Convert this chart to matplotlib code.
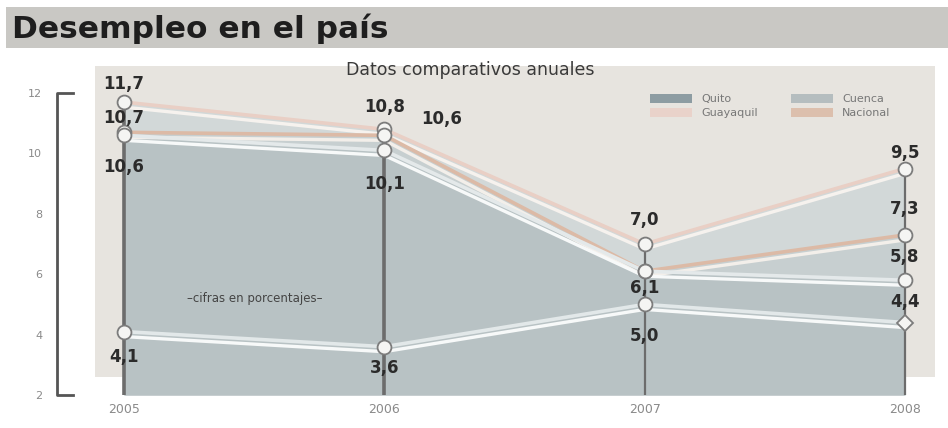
import matplotlib
matplotlib.use("Agg")
import matplotlib.pyplot as plt
from matplotlib.patches import Rectangle, Patch
from matplotlib.transforms import blended_transform_factory, offset_copy

# datos (porcentaje de desempleo)
years = [2005, 2006, 2007, 2008]
guayaquil = [11.7, 10.8, 7.0, 9.5]
nacional = [10.7, 10.6, 6.1, 7.3]
quito = [10.6, 10.1, 6.1, 5.8]
cuenca = [4.1, 3.6, 5.0, 4.4]
y_ticks = [2, 4, 6, 8, 10, 12]
year_labels = ["2005", "2006", "2007", "2008"]
legend_names = ["Quito", "Guayaquil", "Cuenca", "Nacional"]

W, H = 948, 428
fig = plt.figure(figsize=(W / 100, H / 100), dpi=100)
fig.patch.set_facecolor("white")

# ejes en pixeles: x 95..935, y 84..395
ax = fig.add_axes([95 / W, (H - 395) / H, 840 / W, 311 / H])
ax.set_facecolor("none")
ax.set_xlim(2004.8886, 2008.1156)
ax.set_ylim(2, 12.3)
for s in ax.spines.values():
    s.set_visible(False)

# panel beige de fondo
ax.add_patch(Rectangle((0, (395 - 377) / 311), 1, 1, transform=ax.transAxes,
                       facecolor="#e7e4df", edgecolor="none", zorder=0, clip_on=False))

# areas
ax.fill_between(years, 2, guayaquil, color="#d2d8d8", lw=0, zorder=1)
ax.fill_between(years, 2, nacional, color="#c7cfd0", lw=0, zorder=1)
ax.fill_between(years, 2, quito, color="#b8c2c4", lw=0, zorder=1)

# lineas verticales
tops = [max(v) for v in zip(guayaquil, nacional, quito, cuenca)]
ax.vlines(years, 2, tops, colors="#6c6c6c", lw=[2.6, 2.6, 1.6, 1.6], zorder=2)

# cintas dobles
down = offset_copy(ax.transData, fig=fig, x=0, y=-5, units="dots")
ribbons = [(guayaquil, "#e9cfc5", "#f6f2ee"),
           (nacional, "#dcbaa6", "#f3efea"),
           (quito, "#e4e9ea", "#f7f9f9"),
           (cuenca, "#e2e8e9", "#f7f9f9")]
for vals, c_top, c_bot in ribbons:
    ax.plot(years, vals, color=c_top, lw=2.6, zorder=3, solid_capstyle="butt")
    ax.plot(years, vals, color=c_bot, lw=2.4, zorder=3, transform=down,
            solid_capstyle="butt")

# marcadores
mk = dict(mfc="#f5f5f3", mec="#7c7c7c", mew=1.3, ls="none", zorder=4)
for vals in (guayaquil, nacional, quito):
    ax.plot(years, vals, "o", ms=10, **mk)
ax.plot(years[:3], cuenca[:3], "o", ms=10, **mk)
ax.plot(years[3:], cuenca[3:], "D", ms=8, **mk)

# etiquetas de valores (desplazamiento en puntos)
label_offsets = {
    "guayaquil": [(0, 13), (0, 16), (0, 17), (0, 11)],
    "nacional": [(0, 10), (41, 12), (0, -12), (0, 19)],
    "quito": [(0, -23), (0, -24), None, (0, 17)],
    "cuenca": [(0, -18), (0, -15), (0, -23), (0, 15)],
}
series = {"guayaquil": guayaquil, "nacional": nacional, "quito": quito, "cuenca": cuenca}
for name, vals in series.items():
    for x, v, off in zip(years, vals, label_offsets[name]):
        if off is None:
            continue
        ax.annotate(f"{v:.1f}".replace(".", ","), (x, v), xytext=off,
                    textcoords="offset points", ha="center", va="center",
                    fontsize=12, fontweight="bold", color="#2b2b2b", zorder=5)

# ejes: ticks
ax.set_xticks(years, year_labels)
ax.set_yticks(y_ticks, [str(t) for t in y_ticks])
ax.tick_params(axis="x", length=0, pad=6, labelsize=9, labelcolor="#8a8a8a")
ax.tick_params(axis="y", length=0, pad=38, labelsize=8, labelcolor="#8a8a8a")

# corchete del eje y
tr = blended_transform_factory(fig.transFigure, ax.transData)
ax.plot([73 / W, 57 / W, 57 / W, 73 / W], [12, 12, 2, 2], color="#555555", lw=2,
        transform=tr, clip_on=False, zorder=2)

ax.text(255 / W, 5.2, "\u2013cifras en porcentajes\u2013", transform=tr, ha="center",
        va="center", fontsize=8.5, color="#444444", zorder=5)

# leyenda
colors = ["#8d9ca2", "#e9d2ca", "#b5bdbf", "#dcbfad"]
handles = [Patch(facecolor=c, edgecolor="none") for c in colors]
fig.legend(handles, legend_names, ncol=2, loc="upper left",
           bbox_to_anchor=(640 / W, 1 - 84 / H), frameon=False, fontsize=8,
           labelcolor="#777777", handlelength=3.8, handleheight=0.9,
           labelspacing=0.3, columnspacing=3.0, handletextpad=0.8)

# cabecera
fig.patches.append(Rectangle((6 / W, 1 - 48 / H), 1, 41 / H, transform=fig.transFigure,
                             facecolor="#c9c8c4", edgecolor="none", zorder=0))
fig.text(12 / W, 1 - 29 / H, "Desempleo en el país", fontsize=22.5, fontweight="bold",
         family="DejaVu Sans", color="#1e1e1e", va="center", ha="left")
fig.text(470 / W, 1 - 70 / H, "Datos comparativos anuales", fontsize=12.5,
         color="#3a3a3a", va="center", ha="center")

fig.savefig("out.png", dpi=100)
